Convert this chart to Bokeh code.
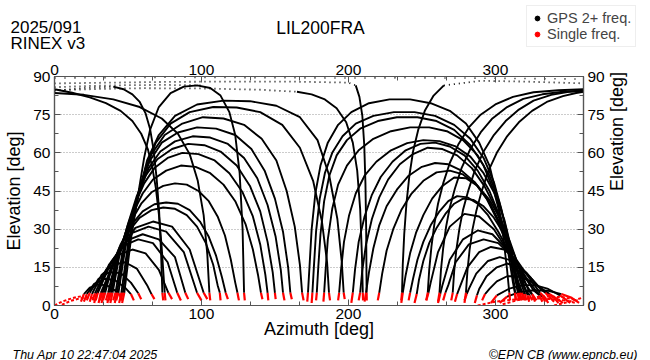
import math
from bokeh.plotting import figure
from bokeh.layouts import column
from bokeh.models import (Range1d, LinearAxis, SingleIntervalTicker, Label,
                          Legend, LegendItem)
from bokeh.embed import file_html
from bokeh.resources import INLINE

# ---------------- data (azimuth / elevation in degrees) -------------
STATION = "LIL200FRA"
DAY = "2025/091"
RINEX = "RINEX v3"
STAMP = "Thu Apr 10 22:47:04 2025"
CREDIT = "\u00a9EPN CB (www.epncb.eu)"
LEGEND_LABELS = ["GPS 2+ freq.", "Single freq."]

AZ_TICKS_STEP = 100
EL_TICKS_STEP = 15

# passes rising in the north-east and setting in the east / south-east
EAST_AZ = [
    [18, 20, 24, 30, 36, 41, 44, 46],
    [20, 22, 27, 34, 41, 48, 52, 54],
    [22, 24, 30, 37, 45, 52, 57, 59],
    [24, 25.5, 32, 40, 48, 56, 63, 66, 68],
    [26, 27.5, 35, 44, 53, 62, 71, 77.5, 80],
    [27, 28.5, 37, 47, 57, 67, 77, 83.5, 86],
    [28, 29.5, 39, 49, 60, 71, 82, 89, 91],
    [30, 31.5, 42, 53, 64, 76, 88, 97, 100],
    [31, 32.5, 43, 55, 67, 80, 92, 101.5, 104],
    [32, 33.5, 38, 44, 51, 58, 66, 74, 82, 90, 97, 103, 108, 111, 112.5, 113],
    [33, 34.5, 39, 45, 52, 60, 68, 76, 84, 92, 99, 105, 110, 114, 116.5, 118],
    [35, 36.5, 41, 47, 53, 59, 66, 74, 82, 90, 98, 105, 111, 116, 120, 123, 124.5, 125.5],
    [36, 37.5, 42, 48, 54, 60, 67, 76, 86, 96, 106, 115, 123, 130, 135, 138.5, 140.5, 141.5],
    [37, 38.5, 43, 49, 55, 61, 68, 77, 87, 98, 109, 119, 128, 135, 140, 143.5, 145, 145.5],
    [38, 39.5, 44, 50, 56, 62, 70, 80, 91, 102, 113, 124, 133, 140, 145, 148.5, 150, 150.5],
    [40, 41.5, 46, 52, 58, 64, 72, 82, 94, 106, 118, 129, 138, 145, 150.5, 154, 155.5, 156.5],
    [41, 42.5, 47, 53, 59, 65, 73, 84, 97, 110, 123, 134, 143, 150, 155.5, 159, 160.5, 161.5],
    [42, 43.5, 48, 54, 60, 66, 75, 87, 101, 115, 129, 141, 151, 158, 163.5, 167, 168.5, 169.5],
    [44, 45.5, 50, 56, 62, 69, 79, 92, 108, 124, 140, 155, 167, 176, 182, 185.5, 186.8, 187.5],
    [45, 46.5, 51, 57, 63, 71, 82, 97, 115, 133, 151, 167, 179, 187, 192.5, 195.5, 196.8, 197.5],
    [46, 47.5, 52, 57, 61, 65, 71, 79, 88, 97, 106, 113, 119, 123, 126, 128, 129, 129.5],
]
EAST_EL = [
    [1.5, 4.5, 7, 8.3, 7.8, 6, 4.5, 2],
    [1.5, 4.5, 8.5, 10.5, 10, 7, 4.5, 2],
    [2, 5, 10.5, 13, 12.8, 9, 4.8, 2.5],
    [1.5, 4.5, 12, 16, 17, 14.5, 8, 4.5, 2.5],
    [2, 4.8, 14, 20, 22, 20.5, 14, 5, 2.5],
    [1, 4.5, 16, 23.5, 26, 24.5, 17, 5, 2],
    [2, 5, 17.5, 25.5, 28, 26, 19, 5, 2.5],
    [1, 5, 19, 28.5, 31, 29, 21, 5, 2],
    [2, 5, 20, 30.5, 33, 31, 22, 5, 2.5],
    [1, 5, 14, 22.5, 29.5, 34.5, 37.5, 38.5, 38, 35.5, 31, 24.5, 16, 8, 5, 2],
    [2, 5, 15, 24, 31.5, 37, 39.8, 40.5, 40, 37.5, 33, 27, 19.5, 11, 5, 2.5],
    [2, 5, 16, 26, 34, 40, 44.5, 47, 48, 47.5, 45, 41, 35, 27.5, 18, 9, 5, 2],
    [1, 5, 17, 28, 37, 44, 49.5, 53, 55, 54.5, 52, 47.5, 41, 32, 22, 12, 5, 2.5],
    [2, 5, 18, 30, 40, 48, 54, 58, 60, 59.5, 57, 52, 44.5, 35, 24, 12, 5, 2],
    [1, 5, 19, 32, 43, 51, 57.5, 61.5, 63.5, 63, 60.5, 55, 47, 37, 25, 13, 5, 2.5],
    [2, 5, 20, 34, 45, 54, 60.5, 64.5, 66.5, 66, 63.5, 58, 50, 39.5, 27, 14, 5, 2],
    [1, 5, 21, 36, 48, 57, 64, 68, 70, 69.5, 67, 61.5, 53, 42, 29, 15, 5, 2.5],
    [2, 5, 22, 38, 50, 59.5, 67, 71.5, 74, 73.5, 71, 65.5, 57, 45, 31, 16, 5, 2],
    [1, 5, 24, 41, 54, 64, 71.5, 76, 78, 77.8, 76, 71, 62, 49, 33, 17, 5, 2],
    [2, 5, 25, 43, 57, 67, 74.5, 79, 80.5, 80.3, 78.5, 74, 65, 51, 34, 17, 5, 2.5],
    [1, 5, 26, 44, 58, 69, 78, 83.5, 86, 86.5, 85.5, 82.5, 76, 67, 52, 30, 5, 2],
]

# passes rising in the south / south-west and setting in the north-west
WEST_AZ = [
    [172, 172.5, 173.5, 175, 177.5, 181, 186, 193, 202, 214, 228, 242, 256, 269, 280, 289, 296, 301, 305, 308, 309.5, 310],
    [175, 175.5, 176.5, 178, 180.5, 184, 189, 196, 205, 217, 231, 245, 259, 272, 283, 292, 299, 304.5, 309, 312, 313.5, 314],
    [178, 178.5, 179.5, 181, 183.5, 187, 192, 199, 208, 220, 233, 247, 260, 272, 283, 292, 299, 304.5, 309, 312, 313.3, 314],
    [183, 183.5, 184.5, 186, 189, 193, 199, 207, 217, 229, 242, 255, 267, 278, 288, 296, 302.5, 307.5, 311.5, 314, 315.3, 316],
    [193, 193.7, 195, 197, 200.5, 205, 211, 219, 229, 240, 251, 262, 273, 283, 292, 299.5, 306, 311, 314.5, 316.3, 317],
    [202, 203, 204.5, 207, 211, 216, 222, 230, 239, 249, 259, 269, 279, 288, 296, 303, 309, 313.5, 316.8, 318],
    [207, 208, 209.5, 212, 216, 221, 227, 235, 244, 254, 264, 274, 284, 292.5, 300, 306.5, 312, 316, 318, 319],
    [211, 212, 214, 217, 221, 226, 233, 241, 250, 259, 268, 277, 286, 294, 301, 307.5, 313, 317, 319, 320],
    [220, 221, 223, 226, 230.5, 236, 243, 251, 260, 269, 278, 287, 295.5, 303, 309.5, 315, 318.5, 320.3, 321],
    [236, 237, 239, 242, 246, 251, 257, 264, 272, 280, 288, 296, 303.5, 310, 315.5, 319.5, 322, 323],
    [241, 242, 244, 247, 251, 256, 262, 268, 274, 281, 288, 295, 302, 309, 315, 320, 323.5, 325],
    [245, 246.5, 248, 251, 255, 260, 266, 272, 278, 285, 292, 299, 306, 312.5, 318, 322.5, 325.5, 327],
    [253, 254.5, 256, 261, 269, 279, 289, 299, 309, 319, 325, 328],
    [261, 262.5, 264, 269, 278, 288, 298, 308, 318, 326, 330, 332],
    [264.5, 266, 268, 273, 282, 292, 302, 312, 321, 328, 332, 334],
    [272.5, 274, 276, 281, 289, 297, 306, 315, 324, 330.5, 334, 336],
    [279, 280.5, 282, 287, 295, 303, 312, 321, 329, 334, 337.5, 340],
    [286, 287.5, 289, 294, 301, 308, 316, 324, 331, 336, 340, 343],
    [291, 293, 296, 301, 308, 316, 324, 332, 337, 341, 346],
    [297, 301, 309, 318, 327, 336, 344, 351],
    [303, 308, 316, 326, 336, 345, 352, 357],
]
WEST_EL = [
    [1.5, 5, 15, 30, 44, 55, 64, 71, 76, 79.5, 81, 81, 79.5, 76.5, 71.5, 64, 55, 43, 29, 14, 5, 2],
    [1, 5, 15, 29, 42, 52, 60, 66.5, 71.5, 74.5, 76, 76, 74.5, 71, 65.5, 58, 48.5, 37, 24, 12, 5, 2],
    [2, 5, 15, 28, 41, 51, 59, 65, 69.5, 72.5, 74, 74, 72.5, 69, 63, 55, 45, 33, 20, 9, 5, 2],
    [1.5, 5, 14, 26, 38, 47.5, 55, 61, 65.5, 68.5, 70, 70, 68.5, 65, 59, 51, 41, 30, 18, 9, 5, 2],
    [2, 5, 14, 25, 35.5, 44, 51, 56.5, 61, 63.8, 65, 64.6, 62.5, 58.5, 52, 44, 34, 22, 11, 5, 2],
    [1, 5, 14, 25, 35, 43.5, 50.5, 56.5, 61, 63.5, 64, 62.5, 59, 53, 45, 35, 23, 11, 5, 2],
    [2, 5, 14, 24, 34, 42.5, 49.5, 55.5, 59.5, 62, 61.5, 59, 54, 47, 38.5, 28, 16, 8, 5, 2.5],
    [1.5, 5, 13, 22.5, 31.5, 39, 45.5, 51, 54.5, 56, 55.5, 53, 48.5, 42, 34, 24.5, 14, 7, 4.5, 2],
    [2, 5, 12.5, 21.5, 30, 37.5, 44, 49, 52.3, 53, 51.5, 47.5, 41, 32.5, 23, 13, 7, 4.5, 2],
    [1, 5, 12, 20.5, 28.5, 35.5, 42, 47, 50.3, 50, 47, 41.5, 34, 25, 16, 8, 4, 1.5],
    [2, 5, 10.5, 18, 25, 31.5, 37, 41, 43, 42.5, 40, 35.5, 29, 21.5, 13.5, 6.5, 4, 2],
    [1, 4.5, 10, 17.5, 24.5, 30.5, 36, 40, 42, 41.5, 39, 34.5, 28, 20.5, 12.5, 6, 4, 1.5],
    [2, 5, 9, 21, 31, 36, 35, 30, 21, 10, 4.5, 2],
    [1, 4.5, 8, 18, 26, 29.5, 28, 22, 13, 6, 4, 1.5],
    [2, 5, 8, 17, 24, 26, 24.5, 19, 11, 5.5, 3.5, 1.5],
    [1.5, 4.5, 7.5, 15, 21, 23, 22, 17.5, 10, 5, 3, 1],
    [2, 4.5, 6.5, 12.5, 17.5, 19, 17.5, 13, 7.5, 5, 3, 1.5],
    [1, 4, 6.5, 11.5, 15, 16.5, 15, 11, 6.5, 4.5, 3, 1],
    [2, 4.5, 6.5, 9.5, 11.5, 11.5, 9.5, 6.5, 4.5, 3, 1],
    [1, 4, 6.5, 8, 8, 6.5, 4, 1],
    [1, 3.5, 5.2, 6, 5.8, 4.5, 3, 1],
]

# high passes crossing the north (solid parts)
OVER_AZ = [
    [253, 254, 255, 256.5, 258.5, 261, 264.5, 269, 275, 282, 290, 300, 312, 326, 343, 360],
    [261, 262, 263, 264.5, 266.5, 269, 272.5, 277, 283, 290, 298, 308, 319, 332, 346, 360],
    [270, 271, 272, 273.5, 275.5, 278, 281.5, 286, 292, 299, 307, 316, 326, 338, 350, 360],
    [279, 280, 281, 282.5, 284.5, 287, 290.5, 295, 301, 308, 316, 325, 335, 346, 355, 360],
    [236, 236.5, 237, 238, 239.5, 241.5, 244, 247.5, 252, 258, 265],
    [0, 12, 24, 35, 45, 53, 59, 63.5, 66.5, 69, 71, 72.8, 74.2, 75, 75.5],
    [40, 47, 53, 58, 62, 65, 67.5, 69.5, 71.2, 72.5, 73.4, 74],
    [0, 20, 40, 58, 73, 84, 92, 97.5, 101.5, 104, 105.4, 106],
    [205, 207.5, 209.5, 210.8, 211.6, 212.1, 212.4, 212.5],
    [165, 175, 184, 192, 198.5, 203, 206, 208, 209.2, 209.8, 210],
]
OVER_EL = [
    [2, 5, 14, 23, 32, 40, 48, 56, 63.5, 70, 75, 79, 82, 83.8, 84.6, 85],
    [1.5, 5, 14, 22.5, 31, 38.5, 46, 54, 61.5, 68, 73.5, 78, 81.2, 83, 84, 84.3],
    [2, 5, 13.5, 22, 30, 37.5, 45, 53, 60.5, 67, 72.5, 77, 80.5, 82.8, 84, 84.6],
    [1, 5, 13.5, 22, 30, 37, 44.5, 52.5, 60, 66.5, 72, 76.5, 80, 82.3, 83.5, 84],
    [2, 5, 16, 28, 40, 51, 60.5, 69, 76.5, 82.5, 86.5],
    [85, 83.6, 81.8, 79.5, 76.5, 72.5, 67.5, 61.5, 54.5, 46, 36, 24, 12, 5, 2],
    [86, 85, 83, 80, 75.5, 69.5, 61, 50, 37, 21, 5, 2],
    [83.5, 82.8, 81, 78, 73.5, 67.5, 59.5, 49, 35.5, 20, 5, 2],
    [86.5, 82, 74.5, 63, 48, 30, 5, 2],
    [84, 83, 81, 77.5, 72, 64, 53, 38, 20, 5, 2],
]

# near-zenith parts, sampled sparsely (dotted in the picture)
ZENITH_AZ = [
    [265, 290, 320, 360],
    [0, 40, 80, 120, 160, 200, 205],
    [0, 30, 60, 100, 140, 165],
    [0, 25, 50, 75, 100],
    [0, 20, 40],
]
ZENITH_EL = [
    [86.5, 88.3, 88, 87.3],
    [87.3, 87.6, 87.9, 88, 88, 87.6, 86.5],
    [84.6, 85.1, 85.4, 85.3, 84.8, 84],
    [85.8, 86.3, 86.6, 86.7, 86.5],
    [84.4, 85.5, 86],
]
SPARSE_AZ = [0, 40, 80, 120, 160, 200, 240, 280, 320, 360]
SPARSE_EL = [89.4, 89.6, 89.7, 89.6, 89.5, 89.4, 89.5, 89.4, 89.2, 89]

# low northern passes (single frequency only)
LOW_AZ = [
    [0, 5, 10, 15, 20],
    [5, 11, 17, 23, 29],
    [288, 300, 315, 330, 345, 355],
    [340, 348, 355, 360],
    [305, 318, 332, 346, 356],
]
LOW_EL = [
    [0, 1.5, 2.5, 3.3, 3.8],
    [0.3, 1.8, 2.8, 3.2, 2.8],
    [0, 1.5, 2.5, 2.8, 2.2, 1],
    [0, 1.2, 2.3, 3.2],
    [0.5, 2.5, 3.6, 3.3, 2],
]

SINGLE_FREQ_MAX_EL = 5

# ---------------- split tracks into dual / single frequency parts -------------
black_xs, black_ys, red_xs, red_ys = [], [], [], []


def split_track(az, el):
    n = len(el)
    i = 0
    while i < n and el[i] <= SINGLE_FREQ_MAX_EL:
        i += 1
    if i >= n:
        red_xs.append(list(az)); red_ys.append(list(el))
        return
    j = n - 1
    while j >= 0 and el[j] <= SINGLE_FREQ_MAX_EL:
        j -= 1
    if i >= 2:
        red_xs.append(az[0:i]); red_ys.append(el[0:i])
    start = max(i - 1, 0)
    black_xs.append(az[start:j + 2]); black_ys.append(el[start:j + 2])
    if n - 1 - j >= 2:
        red_xs.append(az[j + 1:]); red_ys.append(el[j + 1:])


for group_az, group_el in ((EAST_AZ, EAST_EL), (WEST_AZ, WEST_EL), (OVER_AZ, OVER_EL)):
    for a, e in zip(group_az, group_el):
        split_track(a, e)

FONT = "Liberation Sans"
AXIS_COL = "#555555"
W = 650
H_HEAD, H_MAIN, H_FOOT = 52, 293, 15


def add_text(fig, x, y, txt, size, align="left", style="normal"):
    fig.add_layout(Label(x=x, y=y, text=txt, text_font=FONT, text_font_size=size,
                         text_align=align, text_baseline="alphabetic",
                         text_font_style=style, text_color="black"))


# ---------------- header (title, file info, legend) ----------------
header = figure(width=W, height=H_HEAD, x_range=Range1d(0, W), y_range=Range1d(0, H_HEAD),
                output_backend="svg", toolbar_location=None, title=None,
                x_axis_type=None, y_axis_type=None, min_border=0,
                outline_line_color=None, frame_align=False)
header.grid.visible = False

add_text(header, 10, 25, DAY, "17px")
add_text(header, 10, 9, RINEX, "17px")
add_text(header, 320, 25, STATION, "17.5px", align="center")

# legend proxies (kept outside the visible header range)
r_b = header.scatter(x=[-100], y=[-100], marker="circle", size=9, color="black")
r_r = header.scatter(x=[-100], y=[-100], marker="circle", size=9, color="red")
legend = Legend(items=[LegendItem(label=LEGEND_LABELS[0], renderers=[r_b]),
                       LegendItem(label=LEGEND_LABELS[1], renderers=[r_r])],
                location=(526, 5), label_text_font=FONT, label_text_font_size="14.5px",
                label_height=16, glyph_height=16, glyph_width=12, padding=4, spacing=0,
                margin=0, border_line_color="#dddddd", border_line_width=1,
                background_fill_alpha=1, label_standoff=4)
header.add_layout(legend)

# ---------------- main chart ----------------
p = figure(width=W, height=H_MAIN, x_range=Range1d(0, 360), y_range=Range1d(0, 90),
           output_backend="svg", toolbar_location=None, title=None,
           min_border_left=54, min_border_right=67, min_border_top=24,
           min_border_bottom=40, background_fill_color="white",
           border_fill_color="white", frame_align=False)
p.outline_line_color = AXIS_COL
p.outline_line_width = 1.2

bottom_axis = p.below[0]
left_axis = p.left[0]
bottom_axis.ticker = SingleIntervalTicker(interval=AZ_TICKS_STEP, num_minor_ticks=3)
left_axis.ticker = SingleIntervalTicker(interval=EL_TICKS_STEP, num_minor_ticks=2)
bottom_axis.axis_label = "Azimuth [deg]"
left_axis.axis_label = "Elevation [deg]"

top_axis = LinearAxis(ticker=SingleIntervalTicker(interval=AZ_TICKS_STEP, num_minor_ticks=3))
right_axis = LinearAxis(ticker=SingleIntervalTicker(interval=EL_TICKS_STEP, num_minor_ticks=2),
                        axis_label="Elevation [deg]")
p.add_layout(top_axis, "above")
p.add_layout(right_axis, "right")

for ax in [bottom_axis, left_axis, top_axis, right_axis]:
    ax.major_tick_in = 6
    ax.major_tick_out = 0
    ax.minor_tick_in = 4
    ax.minor_tick_out = 0
    ax.axis_line_color = AXIS_COL
    ax.axis_line_width = 1.2
    ax.major_tick_line_color = AXIS_COL
    ax.minor_tick_line_color = AXIS_COL
    ax.major_label_text_font = FONT
    ax.major_label_text_font_size = "15.5px"
    ax.major_label_text_color = "black"
    ax.major_label_standoff = 4
    ax.axis_label_text_font = FONT
    ax.axis_label_text_font_size = "18px"
    ax.axis_label_text_font_style = "normal"
    ax.axis_label_text_color = "black"
top_axis.major_label_standoff = 2
bottom_axis.major_label_standoff = 3
left_axis.axis_label_standoff = 6
right_axis.axis_label_standoff = 9
right_axis.axis_label_orientation = math.pi / 2
bottom_axis.axis_label_standoff = -3

p.xgrid.visible = False
p.ygrid.grid_line_color = "#999999"
p.ygrid.grid_line_dash = "1 2"
p.ygrid.grid_line_width = 1

p.multi_line(black_xs, black_ys, line_color="black", line_width=1.9)
p.multi_line(ZENITH_AZ, ZENITH_EL, line_color="black", line_width=1.8, line_dash="1 4")
p.line(SPARSE_AZ, SPARSE_EL, line_color="black", line_width=1.6, line_dash="1 9")
p.multi_line(red_xs, red_ys, line_color="red", line_width=2.2)
p.multi_line(LOW_AZ, LOW_EL, line_color="red", line_width=2, line_dash="3 2")

# ---------------- footer ----------------
footer = figure(width=W, height=H_FOOT, x_range=Range1d(0, W), y_range=Range1d(0, H_FOOT),
                output_backend="svg", toolbar_location=None, title=None,
                x_axis_type=None, y_axis_type=None, min_border=0,
                outline_line_color=None, frame_align=False)
footer.grid.visible = False
add_text(footer, 12, 6, STAMP, "12.5px", style="italic")
add_text(footer, 637, 6, CREDIT, "12.5px", align="right", style="italic")

layout = column(header, p, footer, spacing=0)
open("out.html", "w").write(file_html(layout, INLINE))
